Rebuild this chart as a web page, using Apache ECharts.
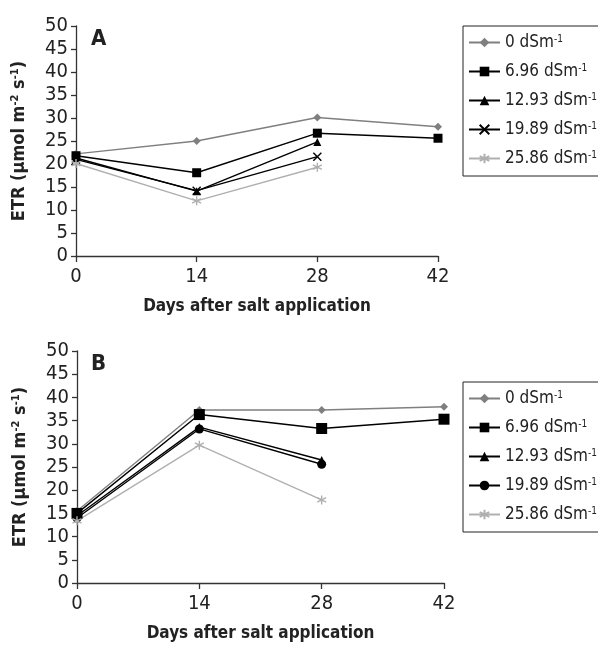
<!DOCTYPE html>
<html><head><meta charset="utf-8">
<script src="https://cdn.jsdelivr.net/npm/echarts@6/dist/echarts.min.js"></script>
<style>html,body{margin:0;padding:0;background:#fff}#c{width:598px;height:645px}</style>
</head><body><div id="c"></div>
<script>
const days = [0, 14, 28, 42];
const xTicks = [0, 14, 28, 42];
const levelLabels = ['0', '6.96', '12.93', '19.89', '25.86'];
// Panel A values (ETR) per level, by day
const a0 = [22.2, 25.0, 30.1, 28.1];
const a1 = [21.8, 18.1, 26.7, 25.6];
const a2 = [21.3, 14.1, 24.8];
const a3 = [21.0, 14.2, 21.6];
const a4 = [20.1, 12.0, 19.3];
// Panel B values
const b0 = [15.5, 37.3, 37.3, 38.0];
const b1 = [15.0, 36.3, 33.3, 35.3];
const b2 = [14.5, 33.6, 26.5];
const b3 = [14.0, 33.2, 25.6];
const b4 = [13.4, 29.7, 17.9];

const FONT = '"Liberation Sans Narrow", "DejaVu Sans Condensed", "Liberation Sans", sans-serif';
const CROSS = 'path://M0,0L10,10M10,0L0,10';
const AST = 'path://M5,0L5,10M0.7,2.5L9.3,7.5M0.7,7.5L9.3,2.5';

const styles = [
  {color:'#7f7f7f', symbol:'diamond', size:8},
  {color:'#000', symbol:'rect', size:9},
  {color:'#000', symbol:'triangle', size:8},
  {color:'#000', symbol:CROSS, size:8, stroke:true},
  {color:'#b0b0b0', symbol:AST, size:9, stroke:true}
];
const stylesB = styles.map(s => Object.assign({}, s));
stylesB[1].size = 11;
stylesB[3] = {color:'#000', symbol:'circle', size:9};

function mk(id, vals, st, gi) {
  return {
    id: id, name: id, type: 'line', xAxisIndex: gi, yAxisIndex: gi,
    data: vals.map((v, i) => [days[i], v]),
    symbol: st.symbol, symbolSize: st.size,
    lineStyle: {color: st.color, width: 1.4},
    itemStyle: st.stroke ? {color: st.color, borderColor: st.color, borderWidth: 1.4}
                         : {color: st.color, borderWidth: 0},
    animation: false, z: 2
  };
}
const series = [];
[a0,a1,a2,a3,a4].forEach((v,i)=>series.push(mk('a'+i, v, styles[i], 0)));
[b0,b1,b2,b3,b4].forEach((v,i)=>series.push(mk('b'+i, v, stylesB[i], 1)));

const yName = '{a|ETR (µmol m}{s|-2}{a| s}{s|-1}{a|)}';
const yRich = {
  a: {fontFamily: FONT, fontWeight: 'bold', fontSize: 18, color: '#222'},
  s: {fontFamily: FONT, fontWeight: 'bold', fontSize: 11, color: '#222', verticalAlign: 'top', padding:[0,0,6,0]}
};
function xAx(gi) {
  return {
    type: 'value', gridIndex: gi, min: 0, max: 42, interval: 14,
    axisLine: {lineStyle: {color: '#333', width: 1.3}},
    axisTick: {show: true, length: 6, inside: false, lineStyle: {color: '#333', width: 1.3}},
    axisLabel: {fontFamily: FONT, fontSize: 20, color: '#222', margin: 11},
    splitLine: {show: false},
    name: 'Days after salt application', nameLocation: 'middle', nameGap: 42,
    nameTextStyle: {fontFamily: FONT, fontWeight: 'bold', fontSize: 17, color: '#222'}
  };
}
function yAx(gi) {
  return {
    type: 'value', gridIndex: gi, min: 0, max: 50, interval: 5,
    axisLine: {show: true, lineStyle: {color: '#333', width: 1.3}},
    axisTick: {show: true, length: 5, lineStyle: {color: '#333', width: 1.3}},
    axisLabel: {fontFamily: FONT, fontSize: 20, color: '#222', margin: 8},
    splitLine: {show: false},
    name: yName, nameLocation: 'middle', nameGap: 48,
    nameTextStyle: {rich: yRich}
  };
}
const legRich = {
  t: {fontFamily: FONT, fontSize: 17, color: '#222'},
  s: {fontFamily: FONT, fontSize: 10, color: '#222', verticalAlign: 'top', padding:[0,0,6,0]}
};
function leg(prefix, top) {
  return {
    orient: 'vertical', left: 463, top: top,
    data: [0,1,2,3,4].map(i => prefix + i),
    itemWidth: 31, itemHeight: 12, itemGap: 12,
    padding: [8, 12, 9, 5],
    borderColor: '#222', borderWidth: 1,
    formatter: n => '{t|' + levelLabels[+n.slice(1)] + ' dSm}{s|-1}',
    textStyle: {rich: legRich},
    selectedMode: false
  };
}
const chart = echarts.init(document.getElementById('c'), null, {renderer: 'canvas'});
chart.setOption({
  animation: false,
  backgroundColor: '#fff',
  grid: [
    {left: 76, top: 26, width: 362, height: 230},
    {left: 77, top: 351, width: 367, height: 232}
  ],
  xAxis: [xAx(0), xAx(1)],
  yAxis: [yAx(0), yAx(1)],
  legend: [leg('a', 26), leg('b', 382)],
  graphic: [
    {type: 'text', left: 91, top: 28, style: {text: 'A', fontFamily: FONT, fontWeight: 'bold', fontSize: 22, fill: '#222'}},
    {type: 'text', left: 91, top: 353, style: {text: 'B', fontFamily: FONT, fontWeight: 'bold', fontSize: 22, fill: '#222'}}
  ],
  series: series
});
</script></body></html>
